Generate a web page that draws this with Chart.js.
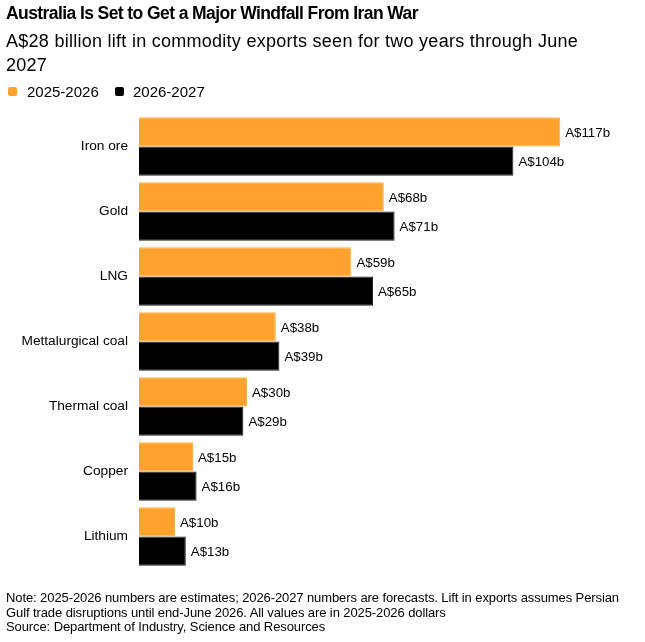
<!DOCTYPE html>
<html>
<head>
<meta charset="utf-8">
<script src="https://cdn.jsdelivr.net/npm/chart.js@4.4.1/dist/chart.umd.min.js"></script>
<style>
  html, body { margin: 0; padding: 0; background: #fff; }
  body { width: 645px; height: 642px; position: relative; overflow: hidden;
         font-family: "Liberation Sans", Arial, sans-serif; color: #000; }
  .t { position: absolute; left: 6px; white-space: nowrap; }
  #title { top: 2px; font-size: 17.5px; font-weight: bold; line-height: 22px; }
  #sub1 { top: 29px; font-size: 18px; line-height: 24px; }
  #sub2 { top: 53px; font-size: 18px; line-height: 24px; }
  #legend { top: 84px; left: 0; font-size: 15px; line-height: 16px; }
  .sw { position: absolute; top: 3px; width: 9px; height: 9px; border-radius: 2px; }
  .lt { position: absolute; top: 0; white-space: nowrap; }
  .note { font-size: 13px; line-height: 15px; }
  #wrap { position: absolute; left: 0; top: 0; width: 645px; height: 642px; }
</style>
</head>
<body>
<div id="wrap"><canvas id="myChart"></canvas></div>
<div class="t" id="title">Australia Is Set to Get a Major Windfall From Iran War</div>
<div class="t" id="sub1">A$28 billion lift in commodity exports seen for two years through June</div>
<div class="t" id="sub2">2027</div>
<div class="t" id="legend">
  <span class="sw" style="left:8px;background:#ffa22d"></span><span class="lt" id="lg1" style="left:27px"></span>
  <span class="sw" style="left:115px;background:#000"></span><span class="lt" id="lg2" style="left:133px"></span>
</div>
<div class="t note" id="n1" style="top:590px">Note: 2025-2026 numbers are estimates; 2026-2027 numbers are forecasts. Lift in exports assumes Persian</div>
<div class="t note" id="n2" style="top:605px">Gulf trade disruptions until end-June 2026. All values are in 2025-2026 dollars</div>
<div class="t note" id="n3" style="top:619px">Source: Department of Industry, Science and Resources</div>
<script>
const commodities = ['Iron ore', 'Gold', 'LNG', 'Mettalurgical coal', 'Thermal coal', 'Copper', 'Lithium'];
const seriesNames = ['2025-2026', '2026-2027'];
const exports2526 = [117, 68, 59, 38, 30, 15, 10];
const exports2627 = [104, 71, 65, 39, 29, 16, 13];

document.getElementById('lg1').textContent = seriesNames[0];
document.getElementById('lg2').textContent = seriesNames[1];

// squeeze text to the narrow look of the original
function fit(id, target){
    var el = document.getElementById(id);
    var n = el.textContent.length;
    var w = el.getBoundingClientRect().width;
    var ls = (target - w) / n;
    el.style.letterSpacing = ls + 'px';
    return ls;
}
fit('title', 412);
fit('sub1', 572);
document.getElementById('sub2').style.letterSpacing = document.getElementById('sub1').style.letterSpacing;
var nls = fit('n1', 613);
document.getElementById('n2').style.letterSpacing = nls + 'px';
document.getElementById('n3').style.letterSpacing = nls + 'px';

const valueLabels = {
    id: 'valueLabels',
    afterDatasetsDraw(chart){
        const ctx = chart.ctx;
        ctx.save();
        ctx.font = '13.3px "Liberation Sans", Arial, sans-serif';
        ctx.fillStyle = '#000';
        ctx.textAlign = 'left';
        ctx.textBaseline = 'middle';
        chart.data.datasets.forEach(function(ds, i){
            chart.getDatasetMeta(i).data.forEach(function(bar, j){
                ctx.fillText('A$' + ds.data[j] + 'b', bar.x + 5, bar.y + 1);
            });
        });
        ctx.restore();
    }
};

const data = {
    labels: commodities,
    datasets: [{
        label: seriesNames[0],
        data: exports2526,
        backgroundColor: '#ffa22d',
        borderColor: '#ffb04a',
        borderWidth: 1,
        categoryPercentage: 0.9,
        barPercentage: 1
    }, {
        label: seriesNames[1],
        data: exports2627,
        backgroundColor: '#000',
        borderColor: '#222',
        borderWidth: 1,
        categoryPercentage: 0.9,
        barPercentage: 1
    }]
};

const config = {
    type: 'bar',
    data: data,
    options: {
        indexAxis: 'y',
        responsive: true,
        maintainAspectRatio: false,
        animation: false,
        layout: { padding: { top: 114, bottom: 73, right: 38, left: 0 } },
        plugins: { legend: { display: false }, tooltip: { enabled: false } },
        scales: {
            x: { display: false, min: 0, max: 130 },
            y: {
                grid: { display: false, drawTicks: false },
                border: { display: false },
                ticks: {
                    color: '#000',
                    padding: 11,
                    font: { family: '"Liberation Sans", Arial, sans-serif', size: 13.7 }
                },
                afterFit: function(scale){ scale.width = 139; }
            }
        }
    },
    plugins: [valueLabels]
};

const myChart = new Chart(document.getElementById('myChart'), config);
</script>
</body>
</html>
